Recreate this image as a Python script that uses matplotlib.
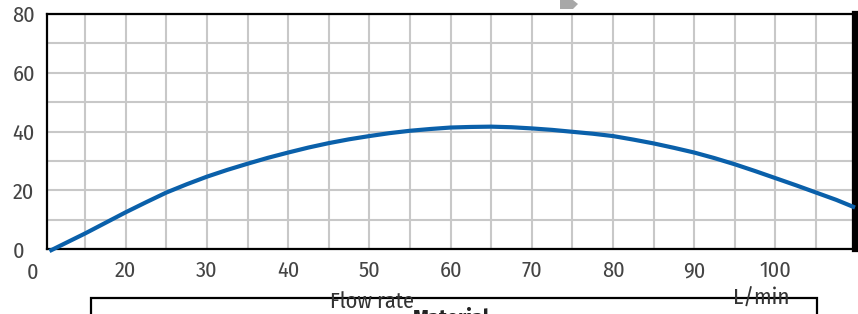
import matplotlib
matplotlib.use('Agg')
import matplotlib.pyplot as plt
from matplotlib.patches import Rectangle, Polygon

plt.rcParams['font.family'] = ['Fira Sans Condensed', 'PT Sans Narrow',
                               'Archivo Narrow', 'DejaVu Sans']

# flow rate (L/min) vs head
flow = [10.6, 12.5, 15, 17.5, 20, 22.5, 25, 27.5, 30, 32.5, 35, 37.5, 40,
        42.5, 45, 47.5, 50, 52.5, 55, 57.5, 60, 62.5, 65, 67.5, 70, 72.5,
        75, 77.5, 80, 82.5, 85, 87.5, 90, 92.5, 95, 97.5, 100, 102.5, 105,
        107.5, 109.8]
head = [-0.6, 2.0, 5.4, 9.0, 12.6, 16.0, 19.3, 22.1, 24.7, 27.0, 29.1, 31.1,
        32.9, 34.6, 36.1, 37.4, 38.5, 39.5, 40.3, 40.9, 41.4, 41.6, 41.7,
        41.5, 41.1, 40.6, 39.95, 39.3, 38.5, 37.3, 36.0, 34.5, 32.9, 31.0,
        28.9, 26.6, 24.2, 21.8, 19.3, 16.8, 14.2]

x_major = [20, 30, 40, 50, 60, 70, 80, 90, 100]
x_minor = [15, 25, 35, 45, 55, 65, 75, 85, 95, 105]
y_major = [0, 20, 40, 60, 80]
y_minor = [10, 30, 50, 70]

fig = plt.figure(figsize=(8.58, 3.14), dpi=100)
ax = fig.add_axes([47 / 858, 1 - 249.3 / 314, 808 / 858, 235.3 / 314])

ax.plot(flow, head, color='#0a60aa', lw=3, clip_on=False, zorder=5,
        solid_capstyle='butt', solid_joinstyle='round')

ax.set_xlim(10.3, 109.8)
ax.set_ylim(0, 80)
ax.set_xticks(x_major)
ax.set_xticks(x_minor, minor=True)
ax.set_yticks(y_major)
ax.set_yticks(y_minor, minor=True)
ax.grid(True, which='both', color='#c8c8c8', lw=1.5)
ax.set_axisbelow(True)

ax.tick_params(which='both', length=0)
ax.tick_params(axis='x', labelsize=16, labelcolor='#444444', pad=8)
ax.tick_params(axis='y', labelsize=16, labelcolor='#444444', pad=25)
for lab in ax.get_yticklabels():
    lab.set_horizontalalignment('left')

for s in ['left', 'top', 'bottom']:
    ax.spines[s].set_linewidth(1.6)
    ax.spines[s].set_color('black')
ax.spines['right'].set_linewidth(4.5)
ax.spines['right'].set_color('black')

# stray "0" label left of the x axis
ax.text(8.5, -4.2, '0', fontsize=16, color='#444444', ha='center', va='top',
        clip_on=False)

# parts of the page below the chart
fig.patches.append(Rectangle((91 / 858, -0.1), (817 - 91) / 858, 0.1 + 1 - 298 / 314,
                             transform=fig.transFigure, fill=False,
                             ec='black', lw=1.6))
fig.text(330 / 858, 1 - 291 / 314, 'Flow rate', fontsize=16, color='#333333',
         va='top', ha='left')
fig.text(733 / 858, 1 - 288 / 314, 'L/min', fontsize=16.5, color='#333333',
         va='top', ha='left')
fig.text(413 / 858, 1 - 308 / 314, 'Material', fontsize=16, color='#222222',
         weight='bold', va='top', ha='left')
fig.patches.append(Polygon([(560 / 858, 1), (573 / 858, 1), (578 / 858, 1 - 4 / 314),
                            (573 / 858, 1 - 9 / 314), (560 / 858, 1 - 9 / 314)],
                           closed=True, transform=fig.transFigure,
                           fc='#a8a8a8', ec='none'))

fig.savefig('out.png', dpi=100)
